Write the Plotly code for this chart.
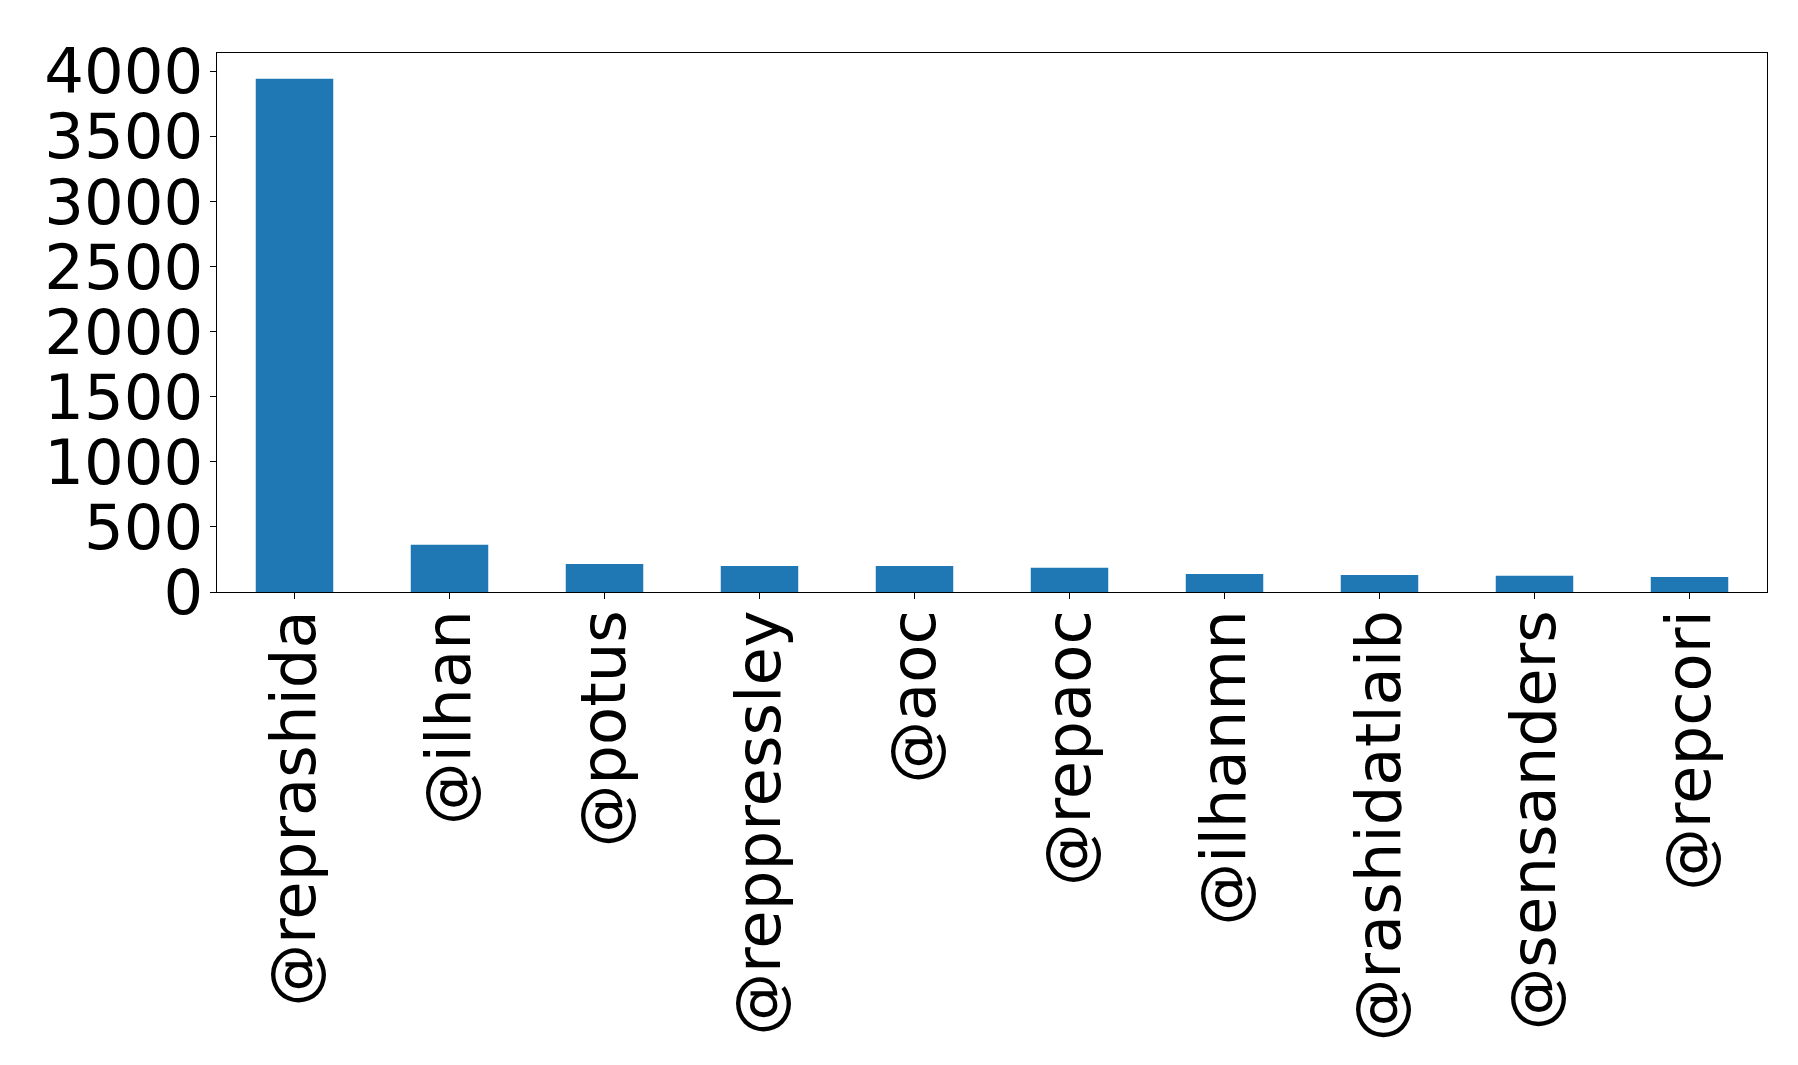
import plotly.graph_objects as go

categories = ["@reprashida", "@ilhan", "@potus", "@reppressley", "@aoc",
              "@repaoc", "@ilhanmn", "@rashidatlaib", "@sensanders", "@repcori"]
counts = [3945, 363, 216, 200, 199, 186, 139, 131, 124, 116]
y_ticks = [0, 500, 1000, 1500, 2000, 2500, 3000, 3500, 4000]

fig = go.Figure(go.Bar(
    x=list(range(len(categories))),
    y=counts,
    width=0.5,
    marker=dict(color="#1f77b4", line=dict(width=0)),
))

font = dict(family="DejaVu Sans", size=62.5, color="black")
fig.update_layout(
    width=1798, height=1065,
    margin=dict(l=209, r=39, t=45, b=481, autoexpand=False),
    paper_bgcolor="white", plot_bgcolor="white",
    showlegend=False,
    font=font,
)
fig.update_xaxes(
    range=[-0.5, len(categories) - 0.5],
    tickmode="array", tickvals=list(range(len(categories))), ticktext=categories,
    tickangle=-90, ticks="outside", ticklen=6, tickwidth=1.3, tickcolor="black",
    showline=True, linecolor="black", linewidth=1.3, mirror=True,
    showgrid=False, zeroline=False, automargin=False,
    tickfont=font, ticklabelstandoff=-14,
)
fig.update_yaxes(
    range=[0, max(counts) * 1.05],
    tickmode="array", tickvals=y_ticks, ticktext=[str(v) for v in y_ticks],
    ticks="outside", ticklen=6, tickwidth=1.3, tickcolor="black",
    showline=True, linecolor="black", linewidth=1.3, mirror=True,
    showgrid=False, zeroline=False, automargin=False,
    tickfont=font, ticklabelstandoff=-6,
)
fig.write_html("out.html")
